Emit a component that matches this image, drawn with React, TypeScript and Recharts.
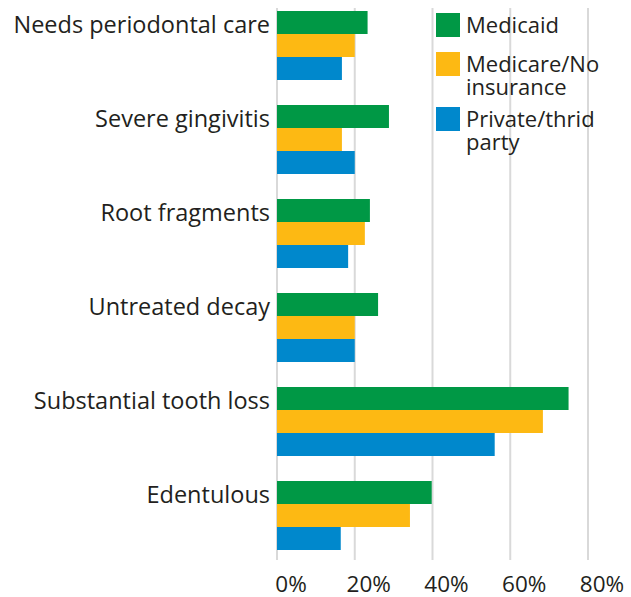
import React from "react";
import {
  BarChart,
  Bar,
  XAxis,
  YAxis,
  CartesianGrid,
} from "recharts";

const categories = [
  "Needs periodontal care",
  "Severe gingivitis",
  "Root fragments",
  "Untreated decay",
  "Substantial tooth loss",
  "Edentulous",
];
const medicaid = [23.3, 28.8, 23.9, 26, 75, 39.8];
const medicare = [20, 16.7, 22.6, 20, 68.4, 34.2];
const privateParty = [16.7, 20, 18.3, 20, 56, 16.4];
const xTicks = [0, 20, 40, 60, 80];

const seriesInfo = [
  { key: "medicaid", label: ["Medicaid"], color: "#009845" },
  { key: "medicare", label: ["Medicare/No", "insurance"], color: "#FDB913" },
  { key: "private", label: ["Private/thrid", "party"], color: "#0088CC" },
];

const data = categories.map((name, i) => ({
  name,
  medicaid: medicaid[i],
  medicare: medicare[i],
  private: privateParty[i],
}));

const FONT = "'Open Sans', Lato, sans-serif";
const TEXT = "#231f20";

function YTick({ x, y, payload }: any) {
  return (
    <text
      x={x + 6}
      y={y - 21}
      textAnchor="end"
      dominantBaseline="central"
      fontFamily={FONT}
      fontSize={23.5}
      fill={TEXT}
    >
      {payload.value}
    </text>
  );
}

function XTick({ x, y, payload }: any) {
  return (
    <text
      x={x + 14}
      y={y + 13}
      textAnchor="middle"
      dominantBaseline="central"
      fontFamily={FONT}
      fontSize={22.5}
      fill={TEXT}
    >
      {payload.value}%
    </text>
  );
}

// top edge of each legend swatch
const legendTops = [13, 52, 107];

function LegendBox() {
  return (
    <div
      style={{
        position: "absolute",
        left: 436,
        top: 0,
        width: 195,
        fontFamily: FONT,
        fontSize: 22,
        color: TEXT,
      }}
    >
      {seriesInfo.map((s, i) => (
        <div
          key={s.key}
          style={{
            position: "absolute",
            top: legendTops[i],
            left: 0,
            display: "flex",
            alignItems: "flex-start",
          }}
        >
          <div
            style={{
              width: 24,
              height: 24,
              background: s.color,
              flexShrink: 0,
              marginRight: 6,
            }}
          />
          <div style={{ lineHeight: "23px", whiteSpace: "nowrap" }}>
            {s.label.map((l) => (
              <div key={l}>{l}</div>
            ))}
          </div>
        </div>
      ))}
    </div>
  );
}

export default function App() {
  return (
    <div
      style={{
        position: "absolute",
        left: 0,
        top: 0,
        width: 631,
        height: 597,
        background: "#fff",
      }}
    >
      <BarChart
        width={631}
        height={597}
        data={data}
        layout="vertical"
        margin={{ top: -2, right: 43, bottom: 0, left: 0 }}
        barGap={0}
      >
        <CartesianGrid
          horizontal={false}
          stroke="#d9d9d9"
          strokeWidth={2}
          y={8}
          height={552}
        />
        <XAxis
          type="number"
          domain={[0, 80]}
          ticks={xTicks}
          axisLine={false}
          tickLine={false}
          tick={<XTick />}
          height={35}
          interval={0}
        />
        <YAxis
          type="category"
          dataKey="name"
          width={277}
          axisLine={false}
          tickLine={false}
          tick={<YTick />}
          tickMargin={7}
          interval={0}
        />
        {seriesInfo.map((s) => (
          <Bar
            key={s.key}
            dataKey={s.key}
            fill={s.color}
            barSize={23}
            isAnimationActive={false}
          />
        ))}
      </BarChart>
      <LegendBox />
    </div>
  );
}
